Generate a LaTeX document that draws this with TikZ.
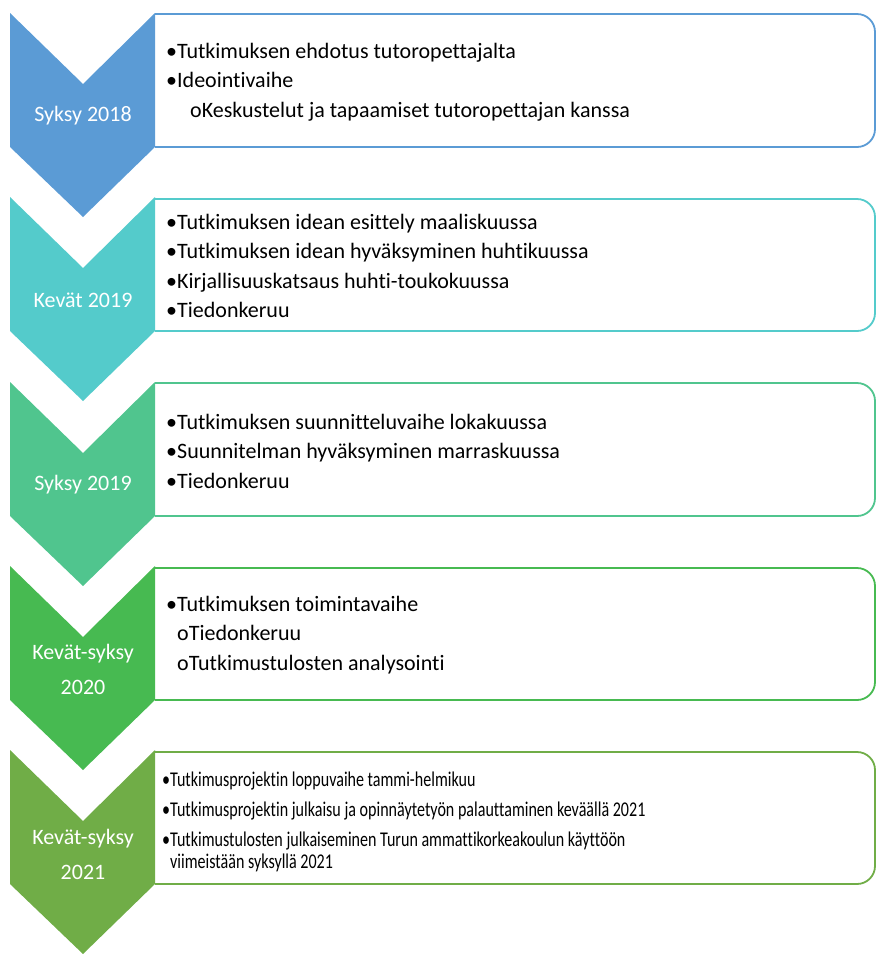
\documentclass[tikz,border=0pt]{standalone}
\usepackage{fontspec}
\setmainfont{Carlito}[Ligatures=NoCommon]
\newfontfamily\narrowcarlito[FakeStretch=0.765,Ligatures=NoCommon]{Carlito}
\usepackage{tikz}
\usetikzlibrary{positioning}
\definecolor{syksyA}{HTML}{5B9BD5}
\definecolor{kevatA}{HTML}{54CBCB}
\definecolor{syksyB}{HTML}{50C58E}
\definecolor{kevatB}{HTML}{47BA51}
\definecolor{kevatC}{HTML}{70AD47}

\begin{document}
\begin{tikzpicture}[x=1pt,y=-1pt]
		\tikzset{
			phase/.style={fill=#1},
			box/.style={draw=#1, line width=1.8pt, rounded corners=18pt},
			when/.style={text=white, font=\fontsize{22}{35}\selectfont, align=center},
			items/.style={anchor=west, align=left, inner sep=0pt, font=\fontsize{22}{29.5}\selectfont}
		}
		\useasboundingbox (0,0) rectangle (876,954);
		\draw[box=syksyA] (155,14) -- (875,14) -- (875,147) -- (155,147);
		\fill[phase=syksyA] (10,13) -- ++(73,71) -- ++(72,-71) -- ++(0,134) -- ++(-72,70) -- ++(-73,-70) -- cycle;
		\node[when] (s2018) at (83,116) {Syksy 2018};
		\node[items] (t2018) at (166,82) {•Tutkimuksen ehdotus tutoropettajalta\\
			•Ideointivaihe\\
			\hspace{24pt}oKeskustelut ja tapaamiset tutoropettajan kanssa};

		\draw[box=kevatA] (155,199) -- (875,199) -- (875,331) -- (155,331);
		\fill[phase=kevatA] (10,197) -- ++(73,71) -- ++(72,-71) -- ++(0,134) -- ++(-72,70) -- ++(-73,-70) -- cycle;
		\node[when] (k2019) at (83,300) {Kevät 2019};
		\node[items] (t2019a) at (166,266) {•Tutkimuksen idean esittely maaliskuussa\\
			•Tutkimuksen idean hyväksyminen huhtikuussa\\
			•Kirjallisuuskatsaus huhti-toukokuussa\\
			•Tiedonkeruu};

		\draw[box=syksyB] (155,383) -- (875,383) -- (875,516) -- (155,516);
		\fill[phase=syksyB] (10,382) -- ++(73,71) -- ++(72,-71) -- ++(0,134) -- ++(-72,70) -- ++(-73,-70) -- cycle;
		\node[when] (s2019) at (83,485) {Syksy 2019};
		\node[items] (t2019b) at (166,451) {•Tutkimuksen suunnitteluvaihe lokakuussa\\
			•Suunnitelman hyväksyminen marraskuussa\\
			•Tiedonkeruu};

		\draw[box=kevatB] (155,568) -- (875,568) -- (875,700) -- (155,700);
		\fill[phase=kevatB] (10,566) -- ++(73,71) -- ++(72,-71) -- ++(0,134) -- ++(-72,70) -- ++(-73,-70) -- cycle;
		\node[when] (k2020) at (83,669) {Kevät-syksy\\ 2020};
		\node[items] (t2020) at (166,635) {•Tutkimuksen toimintavaihe\\
			\hspace{11pt}oTiedonkeruu\\
			\hspace{11pt}oTutkimustulosten analysointi};

		\draw[box=kevatC] (155,752) -- (875,752) -- (875,884) -- (155,884);
		\fill[phase=kevatC] (10,750) -- ++(73,71) -- ++(72,-71) -- ++(0,134) -- ++(-72,70) -- ++(-73,-70) -- cycle;
		\node[when] (k2021) at (83,854) {Kevät-syksy\\ 2021};
		\node[items, font=\narrowcarlito\fontsize{21}{22}\selectfont] (t2021) at (162,822) {•Tutkimusprojektin loppuvaihe tammi-helmikuu\\[8pt]
			•Tutkimusprojektin julkaisu ja opinnäytetyön palauttaminen keväällä 2021\\[8pt]
			•Tutkimustulosten julkaiseminen Turun ammattikorkeakoulun käyttöön\\
			\hspace{8pt}viimeistään syksyllä 2021};
\end{tikzpicture}
\end{document}
